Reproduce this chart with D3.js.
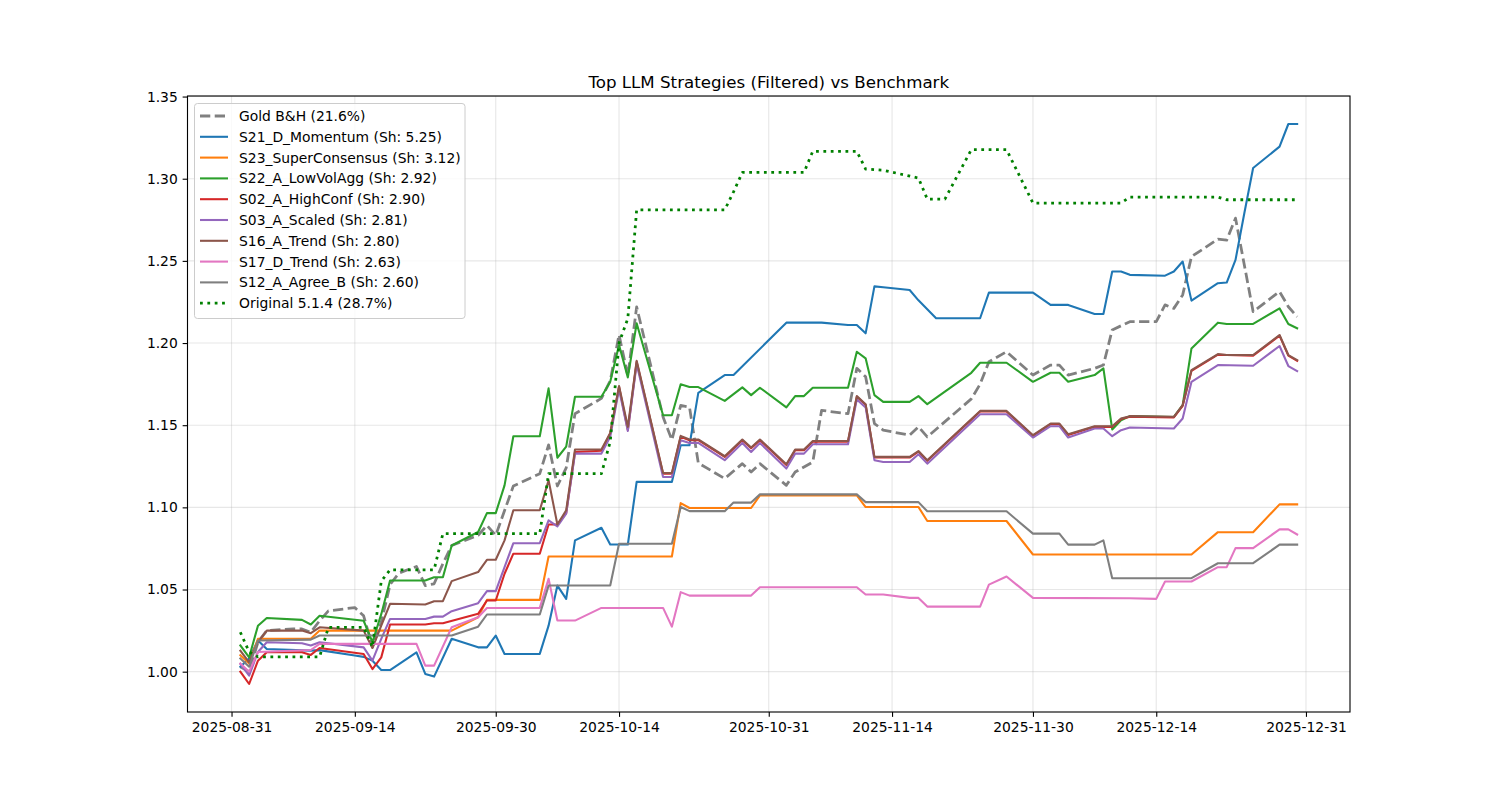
<!DOCTYPE html>
<html><head><meta charset="utf-8">
<script src="https://cdn.jsdelivr.net/npm/d3@7"></script>
<style>body{margin:0;background:#fff} text{font-family:"DejaVu Sans",sans-serif}</style>
</head><body><svg id="c" width="1500" height="800"></svg>
<script>
// ---------- data (date "MM-DD" in 2025, value) ----------
const goldBH = [["09-01",1.003],["09-02",1.000],["09-03",1.018],["09-04",1.025],["09-07",1.026],["09-08",1.026],["09-09",1.024],["09-10",1.031],["09-11",1.037],["09-14",1.039],["09-15",1.034],["09-16",1.015],["09-17",1.030],["09-18",1.053],["09-19",1.060],["09-21",1.064],["09-22",1.0524],["09-23",1.0535],["09-24",1.0657],["09-25",1.0768],["09-28",1.083],["09-29",1.089],["09-30",1.083],["10-02",1.113],["10-05",1.1205],["10-06",1.138],["10-07",1.113],["10-08",1.124],["10-09",1.157],["10-12",1.1663],["10-13",1.177],["10-14",1.205],["10-15",1.18],["10-16",1.222],["10-19",1.155],["10-20",1.141],["10-21",1.162],["10-22",1.161],["10-23",1.127],["10-26",1.1175],["10-28",1.1266],["10-29",1.1215],["10-30",1.1266],["11-02",1.1134],["11-03",1.1215],["11-05",1.1276],["11-06",1.159],["11-09",1.157],["11-10",1.1846],["11-11",1.1795],["11-12",1.151],["11-13",1.147],["11-16",1.1439],["11-17",1.149],["11-18",1.1429],["11-23",1.166],["11-24",1.175],["11-25",1.1886],["11-27",1.1947],["11-30",1.1805],["12-02",1.1866],["12-03",1.1866],["12-04",1.1805],["12-07",1.1846],["12-08",1.1866],["12-09",1.208],["12-11",1.213],["12-14",1.213],["12-15",1.2232],["12-16",1.2211],["12-17",1.2293],["12-18",1.2526],["12-21",1.2632],["12-22",1.2626],["12-23",1.276],["12-25",1.2191],["12-28",1.2313],["12-29",1.2221],["12-30",1.216]];

const s21 = [["09-01",1.003],["09-02",1.008],["09-03",1.019],["09-04",1.0138],["09-09",1.0128],["09-10",1.0131],["09-14",1.0098],["09-15",1.009],["09-16",1.0067],["09-17",1.001],["09-18",1.001],["09-21",1.0118],["09-22",0.9986],["09-23",0.997],["09-25",1.020],["09-28",1.0148],["09-29",1.0148],["09-30",1.022],["10-01",1.0108],["10-05",1.0108],["10-06",1.028],["10-07",1.0524],["10-08",1.0443],["10-09",1.0799],["10-12",1.0876],["10-13",1.0774],["10-15",1.0774],["10-16",1.1155],["10-20",1.1155],["10-21",1.1378],["10-22",1.1378],["10-23",1.1697],["10-26",1.1805],["10-27",1.1805],["11-02",1.2124],["11-06",1.2124],["11-09",1.211],["11-10",1.211],["11-11",1.2059],["11-12",1.2345],["11-13",1.234],["11-16",1.2323],["11-17",1.226],["11-19",1.2151],["11-24",1.2151],["11-25",1.2307],["11-30",1.2307],["12-02",1.2232],["12-04",1.2232],["12-07",1.2177],["12-08",1.2177],["12-09",1.2435],["12-10",1.2435],["12-11",1.2415],["12-15",1.241],["12-16",1.2435],["12-17",1.2496],["12-18",1.2258],["12-21",1.2364],["12-22",1.2368],["12-23",1.2506],["12-24",1.279],["12-25",1.3065],["12-28",1.3195],["12-29",1.3333],["12-30",1.3333]];

const s23 = [["09-01",1.010],["09-02",1.005],["09-03",1.020],["09-09",1.020],["09-10",1.025],["09-25",1.025],["09-28",1.0331],["09-29",1.0437],["10-05",1.0437],["10-06",1.0701],["10-20",1.0701],["10-21",1.1026],["10-22",1.0996],["10-29",1.0996],["10-30",1.1073],["11-10",1.1073],["11-11",1.1002],["11-17",1.1002],["11-18",1.0917],["11-27",1.0917],["11-30",1.0713],["12-18",1.0713],["12-21",1.0849],["12-25",1.0849],["12-28",1.1018],["12-30",1.1018]];

const s22 = [["09-01",1.016],["09-02",1.0087],["09-03",1.028],["09-04",1.0327],["09-08",1.0315],["09-09",1.0287],["09-10",1.034],["09-15",1.031],["09-16",1.018],["09-17",1.035],["09-18",1.0555],["09-22",1.0555],["09-23",1.0575],["09-24",1.0575],["09-25",1.0768],["09-28",1.085],["09-29",1.0965],["09-30",1.0965],["10-01",1.1134],["10-02",1.1433],["10-05",1.1433],["10-06",1.1724],["10-07",1.1302],["10-08",1.137],["10-09",1.1673],["10-12",1.1673],["10-13",1.1764],["10-14",1.1988],["10-15",1.1791],["10-16",1.212],["10-19",1.1561],["10-20",1.1561],["10-21",1.1749],["10-22",1.1732],["10-23",1.1732],["10-26",1.1648],["10-28",1.173],["10-29",1.1683],["10-30",1.1728],["11-02",1.1608],["11-03",1.1677],["11-04",1.1677],["11-05",1.1728],["11-09",1.1728],["11-10",1.1947],["11-11",1.1907],["11-12",1.1683],["11-13",1.1642],["11-16",1.1642],["11-17",1.1677],["11-18",1.1628],["11-23",1.1819],["11-24",1.188],["11-27",1.188],["11-30",1.1764],["12-02",1.1819],["12-03",1.1819],["12-04",1.1764],["12-07",1.1805],["12-08",1.1846],["12-09",1.1474],["12-10",1.153],["12-11",1.1555],["12-16",1.155],["12-17",1.1622],["12-18",1.1967],["12-21",1.2124],["12-22",1.2116],["12-25",1.2116],["12-28",1.2211],["12-29",1.2116],["12-30",1.209]];

const s02 = [["09-01",1.000],["09-02",0.9925],["09-03",1.0067],["09-04",1.0118],["09-08",1.0118],["09-09",1.0102],["09-10",1.0144],["09-15",1.0108],["09-16",1.0016],["09-17",1.0087],["09-18",1.0287],["09-22",1.0287],["09-23",1.0295],["09-24",1.0295],["09-28",1.0352],["09-29",1.0433],["09-30",1.0433],["10-01",1.0596],["10-02",1.0718],["10-05",1.0718],["10-06",1.0896],["10-07",1.0896],["10-08",1.0965],["10-09",1.1337],["10-12",1.1345],["10-13",1.1449],["10-14",1.1734],["10-15",1.147],["10-16",1.1886],["10-19",1.1205],["10-20",1.1205],["10-21",1.1429],["10-22",1.1409],["10-23",1.1409],["10-26",1.1307],["10-28",1.1409],["10-29",1.136],["10-30",1.1409],["11-02",1.1258],["11-03",1.1348],["11-04",1.1348],["11-05",1.14],["11-09",1.14],["11-10",1.1673],["11-11",1.1624],["11-12",1.1303],["11-16",1.1303],["11-17",1.1339],["11-18",1.1283],["11-24",1.1583],["11-27",1.1583],["11-30",1.1435],["12-02",1.1506],["12-03",1.1506],["12-04",1.1441],["12-07",1.149],["12-09",1.149],["12-10",1.1537],["12-11",1.1551],["12-16",1.1547],["12-17",1.1618],["12-18",1.1831],["12-21",1.1929],["12-25",1.1923],["12-28",1.2045],["12-29",1.1923],["12-30",1.1892]];

const s03 = [["09-01",1.0047],["09-02",0.9976],["09-03",1.012],["09-04",1.0179],["09-08",1.0173],["09-09",1.0159],["09-10",1.0179],["09-15",1.0148],["09-16",1.0067],["09-17",1.020],["09-18",1.0321],["09-22",1.0321],["09-23",1.0335],["09-24",1.0335],["09-25",1.0368],["09-28",1.0417],["09-29",1.049],["09-30",1.049],["10-01",1.0636],["10-02",1.0782],["10-05",1.0782],["10-06",1.0921],["10-07",1.0884],["10-08",1.0962],["10-09",1.1327],["10-12",1.1327],["10-13",1.1429],["10-14",1.1718],["10-15",1.1465],["10-16",1.1872],["10-19",1.1185],["10-20",1.1185],["10-21",1.1409],["10-22",1.1392],["10-23",1.1392],["10-26",1.1287],["10-28",1.1392],["10-29",1.1337],["10-30",1.1392],["11-02",1.1236],["11-03",1.1327],["11-04",1.1327],["11-05",1.1384],["11-09",1.1384],["11-10",1.1657],["11-11",1.1608],["11-12",1.1287],["11-13",1.1276],["11-16",1.1276],["11-17",1.1323],["11-18",1.1266],["11-24",1.1567],["11-27",1.1567],["11-30",1.1425],["12-02",1.1494],["12-03",1.1494],["12-04",1.1425],["12-07",1.148],["12-08",1.148],["12-09",1.1433],["12-10",1.147],["12-11",1.1486],["12-16",1.148],["12-17",1.1541],["12-18",1.1764],["12-21",1.1866],["12-25",1.1862],["12-28",1.1982],["12-29",1.186],["12-30",1.1829]];

const s16 = [["09-01",1.0128],["09-02",1.0057],["09-03",1.018],["09-04",1.025],["09-08",1.025],["09-09",1.0234],["09-10",1.027],["09-15",1.025],["09-16",1.0144],["09-17",1.028],["09-18",1.0413],["09-22",1.0409],["09-23",1.0429],["09-24",1.0429],["09-25",1.0551],["09-28",1.0606],["09-29",1.0681],["09-30",1.0681],["10-01",1.0799],["10-02",1.0982],["10-05",1.0982],["10-06",1.1165],["10-07",1.0896],["10-08",1.0982],["10-09",1.1352],["10-12",1.1352],["10-13",1.1453],["10-14",1.1738],["10-15",1.149],["10-16",1.1892],["10-19",1.1209],["10-20",1.1209],["10-21",1.1435],["10-22",1.1413],["10-23",1.1413],["10-26",1.1311],["10-28",1.1413],["10-29",1.1364],["10-30",1.1413],["11-02",1.1262],["11-03",1.1352],["11-04",1.1352],["11-05",1.1404],["11-09",1.1404],["11-10",1.1677],["11-11",1.1628],["11-12",1.1307],["11-16",1.1307],["11-17",1.1343],["11-18",1.1287],["11-24",1.1587],["11-27",1.1587],["11-30",1.1439],["12-02",1.151],["12-03",1.151],["12-04",1.1445],["12-07",1.1494],["12-09",1.1494],["12-10",1.1541],["12-11",1.1555],["12-16",1.1551],["12-17",1.1622],["12-18",1.1835],["12-21",1.1933],["12-22",1.1927],["12-25",1.1927],["12-28",1.2049],["12-29",1.1927],["12-30",1.1896]];

const s17 = [["09-01",1.005],["09-02",1.000],["09-03",1.012],["09-09",1.0132],["09-10",1.0169],["09-21",1.0169],["09-22",1.0037],["09-23",1.0037],["09-25",1.027],["09-28",1.0331],["09-29",1.0388],["10-05",1.0388],["10-06",1.0565],["10-07",1.0311],["10-09",1.0311],["10-12",1.0388],["10-19",1.0388],["10-20",1.0274],["10-21",1.0484],["10-22",1.0463],["10-29",1.0463],["10-30",1.0514],["11-10",1.0514],["11-11",1.047],["11-13",1.047],["11-16",1.0449],["11-17",1.0449],["11-18",1.0396],["11-24",1.0396],["11-25",1.053],["11-27",1.0579],["11-30",1.0449],["12-11",1.0447],["12-14",1.0443],["12-15",1.0549],["12-18",1.0549],["12-21",1.0636],["12-22",1.0636],["12-23",1.0752],["12-25",1.0752],["12-28",1.0866],["12-29",1.0866],["12-30",1.0835]];

const s12 = [["09-01",1.008],["09-02",1.003],["09-03",1.019],["09-09",1.0195],["09-10",1.022],["09-25",1.022],["09-28",1.0274],["09-29",1.0348],["10-05",1.0348],["10-06",1.0524],["10-13",1.0524],["10-14",1.0779],["10-20",1.0779],["10-21",1.1002],["10-22",1.0977],["10-26",1.0977],["10-27",1.1029],["10-29",1.1029],["10-30",1.1079],["11-10",1.1079],["11-11",1.1032],["11-17",1.1032],["11-18",1.0976],["11-27",1.0976],["11-30",1.084],["12-03",1.084],["12-04",1.0773],["12-07",1.0773],["12-08",1.0799],["12-09",1.0569],["12-18",1.0569],["12-21",1.066],["12-25",1.066],["12-28",1.0773],["12-30",1.0773]];

const original514 = [["09-01",1.024],["09-02",1.012],["09-03",1.009],["09-10",1.009],["09-11",1.027],["09-15",1.027],["09-16",1.015],["09-17",1.055],["09-18",1.062],["09-23",1.062],["09-24",1.084],["10-05",1.084],["10-06",1.1205],["10-12",1.1205],["10-13",1.14],["10-14",1.20],["10-15",1.215],["10-16",1.281],["10-26",1.281],["10-27",1.292],["10-28",1.3038],["11-04",1.3038],["11-05",1.3167],["11-10",1.3167],["11-11",1.3059],["11-13",1.3052],["11-17",1.3004],["11-18",1.2876],["11-20",1.2876],["11-23",1.3177],["11-27",1.3177],["11-30",1.2852],["12-10",1.2852],["12-11",1.2888],["12-21",1.2888],["12-22",1.2872],["12-30",1.2872]];

const seriesLabels = ["Gold B&H (21.6%)","S21_D_Momentum (Sh: 5.25)","S23_SuperConsensus (Sh: 3.12)","S22_A_LowVolAgg (Sh: 2.92)","S02_A_HighConf (Sh: 2.90)","S03_A_Scaled (Sh: 2.81)","S16_A_Trend (Sh: 2.80)","S17_D_Trend (Sh: 2.63)","S12_A_Agree_B (Sh: 2.60)","Original 5.1.4 (28.7%)"];
const seriesData = [goldBH, s21, s23, s22, s02, s03, s16, s17, s12, original514];
const xTickLabels = ["2025-08-31","2025-09-14","2025-09-30","2025-10-14","2025-10-31","2025-11-14","2025-11-30","2025-12-14","2025-12-31"];
const yTickValues = [1.00,1.05,1.10,1.15,1.20,1.25,1.30,1.35];
const titleText = "Top LLM Strategies (Filtered) vs Benchmark";

// ---------- styles ----------
const PT = 100/72;
const styles = [
  {color:"#808080", width:2*PT, dash:[3.7*2*PT,1.6*2*PT]},
  {color:"#1f77b4", width:1.5*PT},
  {color:"#ff7f0e", width:1.5*PT},
  {color:"#2ca02c", width:1.5*PT},
  {color:"#d62728", width:1.5*PT},
  {color:"#9467bd", width:1.5*PT},
  {color:"#8c564b", width:1.5*PT},
  {color:"#e377c2", width:1.5*PT},
  {color:"#7f7f7f", width:1.5*PT},
  {color:"#008000", width:2*PT, dash:[1*2*PT,1.65*2*PT]}
];

const parse = d3.utcParse("%Y-%m-%d");
const series = seriesData.map(arr => arr.map(([md,v]) => ({date: parse("2025-"+md), v})));

const L=187.5, R=1350, T=96, B=712;
const svg = d3.select("#c");

const allDates = series.flat().map(d=>d.date);
const dMin = d3.min(allDates), dMax = d3.max(allDates);
const span = dMax - dMin;
const x = d3.scaleUtc().domain([new Date(+dMin - span*0.05), new Date(+dMax + span*0.05)]).range([L,R]);
const allV = series.flat().map(d=>d.v);
const vMin = d3.min(allV), vMax = d3.max(allV), vs = vMax - vMin;
const y = d3.scaleLinear().domain([vMin - vs*0.05, vMax + vs*0.05]).range([B,T]);

const xTicks = xTickLabels.map(parse);

// grid
const grid = svg.append("g");
grid.selectAll(".gx").data(xTicks).enter().append("line")
  .attr("x1",d=>x(d)).attr("x2",d=>x(d)).attr("y1",T).attr("y2",B)
  .attr("stroke","#b0b0b0").attr("stroke-opacity",0.3).attr("stroke-width",0.8*PT);
grid.selectAll(".gy").data(yTickValues).enter().append("line")
  .attr("x1",L).attr("x2",R).attr("y1",d=>y(d)).attr("y2",d=>y(d))
  .attr("stroke","#b0b0b0").attr("stroke-opacity",0.3).attr("stroke-width",0.8*PT);

// lines
const line = d3.line().x(d=>x(d.date)).y(d=>y(d.v));
const plot = svg.append("g");
series.forEach((s,i)=>{
  const st = styles[i];
  plot.append("path").datum(s).attr("d",line)
    .attr("fill","none").attr("stroke",st.color).attr("stroke-width",st.width)
    .attr("stroke-linejoin","round").attr("stroke-linecap", st.dash ? "butt" : "square")
    .attr("stroke-dasharray", st.dash ? st.dash.join(",") : null);
});

// axes
const fs = 10*PT;
const xAxis = svg.append("g").attr("transform",`translate(0,${B})`)
  .call(d3.axisBottom(x).tickValues(xTicks).tickFormat(d3.utcFormat("%Y-%m-%d")).tickSize(3.5*PT).tickPadding(3.5*PT).tickSizeOuter(0));
const yAxis = svg.append("g").attr("transform",`translate(${L},0)`)
  .call(d3.axisLeft(y).tickValues(yTickValues).tickFormat(d3.format(".2f")).tickSize(3.5*PT).tickPadding(3.5*PT).tickSizeOuter(0));
[xAxis,yAxis].forEach(g=>{
  g.selectAll("text").attr("font-size",fs).attr("fill","#000").attr("font-family","DejaVu Sans");
  g.selectAll("line").attr("stroke","#000").attr("stroke-width",0.8*PT);
  g.select(".domain").remove();
});
svg.append("rect").attr("x",L).attr("y",T).attr("width",R-L).attr("height",B-T)
  .attr("fill","none").attr("stroke","#000").attr("stroke-width",0.8*PT);

// title
svg.append("text").attr("x",(L+R)/2).attr("y",T-8.5).attr("text-anchor","middle")
  .attr("font-size",12*PT).attr("fill","#000").text(titleText);

// legend
const lg = svg.append("g");
const lx = 194.5, ly = 103.5, lh = 20.8;
lg.append("rect").attr("x",lx).attr("y",ly).attr("width",270.5).attr("height",215)
  .attr("rx",3).attr("fill","#fff").attr("fill-opacity",0.8).attr("stroke","#cccccc").attr("stroke-width",1);
seriesLabels.forEach((lab,i)=>{
  const cy = 116 + i*lh;
  const st = styles[i];
  lg.append("line").attr("x1",200).attr("x2",228).attr("y1",cy).attr("y2",cy)
    .attr("stroke",st.color).attr("stroke-width",st.width)
    .attr("stroke-dasharray", st.dash ? st.dash.join(",") : null);
  lg.append("text").attr("x",239).attr("y",cy).attr("dy","0.36em")
    .attr("font-size",fs).attr("fill","#000").text(lab);
});
</script></body></html>
